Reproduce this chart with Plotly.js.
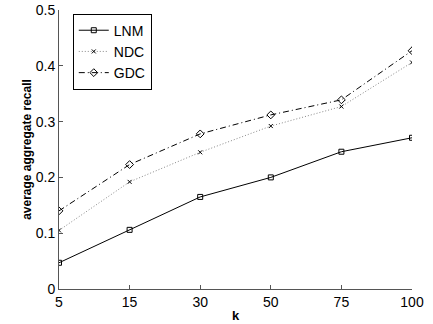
<!DOCTYPE html>
<html>
<head>
<meta charset="utf-8">
<script src="https://cdn.plot.ly/plotly-3.0.1.min.js"></script>
<style>html,body{margin:0;padding:0;background:#fff;}#chart{width:433px;height:324px;}</style>
</head>
<body>
<div id="chart"></div>
<script>
const categories = ['5', '15', '30', '50', '75', '100'];
const lnm = [0.047, 0.106, 0.165, 0.200, 0.246, 0.271];
const ndc = [0.105, 0.192, 0.245, 0.292, 0.327, 0.406];
const gdc = [0.140, 0.223, 0.278, 0.312, 0.339, 0.427];
const seriesNames = ['LNM', 'NDC', 'GDC'];

const fam = 'Liberation Sans, Arial, Helvetica, sans-serif';

const traces = [
  {x: categories, y: lnm, name: seriesNames[0], type: 'scatter', mode: 'lines+markers',
   line: {color: '#000', width: 1, dash: 'solid'},
   marker: {symbol: 'square-open', size: 5, color: '#000', line: {width: 1}}},
  {x: categories, y: ndc, name: seriesNames[1], type: 'scatter', mode: 'lines+markers',
   line: {color: '#888', width: 1, dash: '1px,2px'},
   marker: {symbol: 'x-thin-open', size: 4, color: '#000', line: {width: 1, color: '#000'}}},
  {x: categories, y: gdc, name: seriesNames[2], type: 'scatter', mode: 'lines+markers',
   line: {color: '#000', width: 1, dash: '6px,3px,1px,3px'},
   marker: {symbol: 'diamond-open', size: 6, color: '#000', line: {width: 1}}}
];

const layout = {
  width: 433, height: 324,
  margin: {l: 59, r: 21, t: 10, b: 35, pad: 0},
  paper_bgcolor: '#fff', plot_bgcolor: '#fff',
  font: {family: fam, size: 13, color: '#000'},
  showlegend: true,
  legend: {x: 0.039, y: 0.987, xanchor: 'left', yanchor: 'top',
           bgcolor: '#fff', bordercolor: '#000', borderwidth: 1,
           font: {family: fam, size: 14, color: '#000'},
           tracegroupgap: 0, itemwidth: 30},
  xaxis: {type: 'category', range: [0, 5], showgrid: false, zeroline: false,
          showline: true, linecolor: '#555', linewidth: 1, mirror: false,
          ticks: 'inside', ticklen: 4, tickcolor: '#555',
          tickfont: {family: fam, size: 14, color: '#000'},
          title: {text: '<b>k</b>', font: {family: fam, size: 13, color: '#000'}, standoff: 2},
          automargin: false},
  yaxis: {range: [0, 0.5], dtick: 0.1, tick0: 0, showgrid: false, zeroline: false,
          showline: true, linecolor: '#555', linewidth: 1, mirror: false,
          ticks: 'inside', ticklen: 4, tickcolor: '#555',
          tickfont: {family: fam, size: 14, color: '#000'},
          title: {text: '<b>average aggregate recall</b>', font: {family: fam, size: 12, color: '#000'}, standoff: 1},
          automargin: false}
};

Plotly.newPlot('chart', traces, layout, {displayModeBar: false, staticPlot: true});
</script>
</body>
</html>
